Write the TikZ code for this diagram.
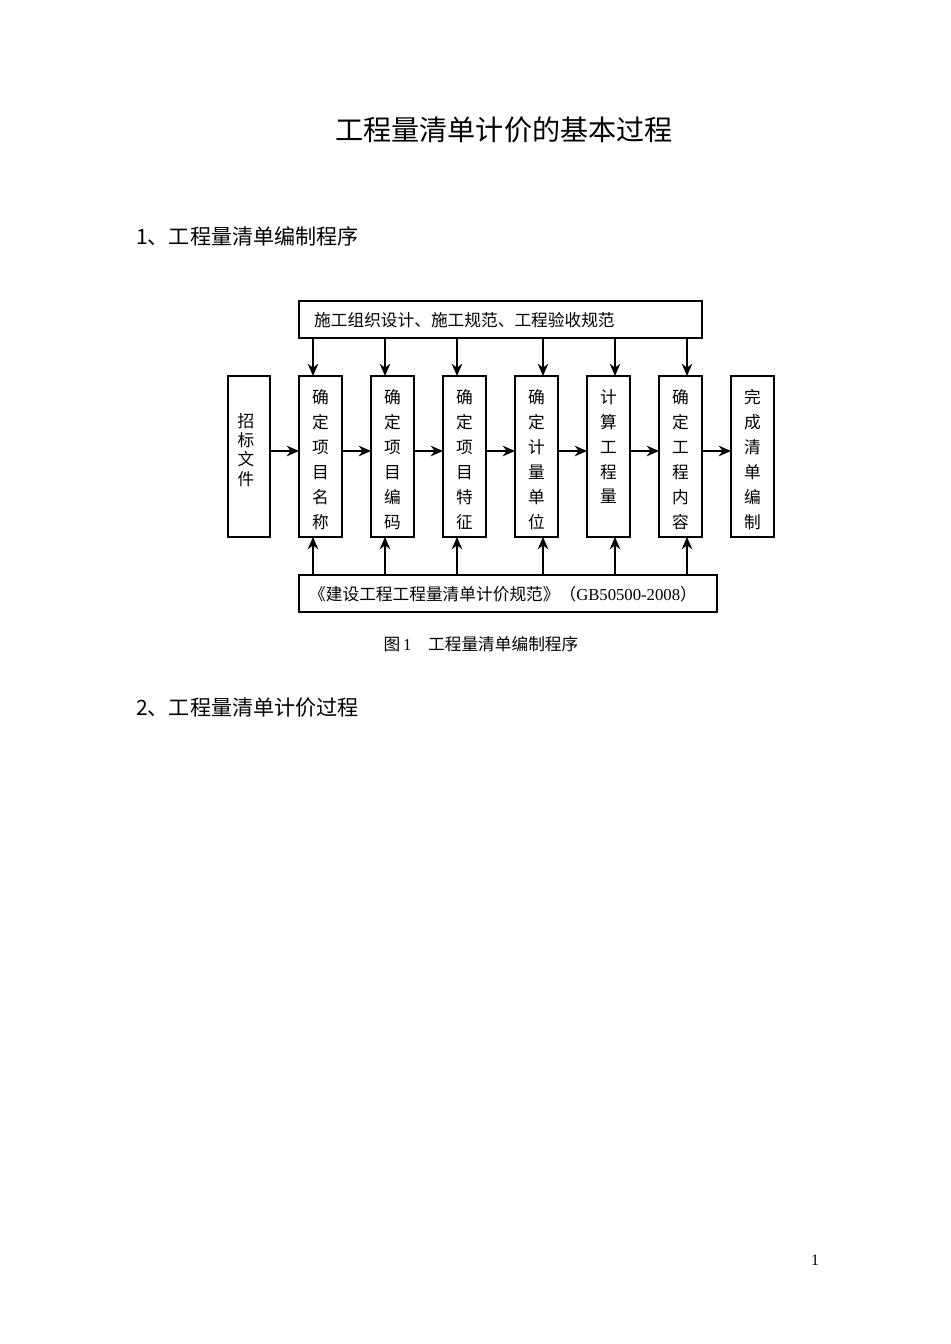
\documentclass[tikz,border=0pt]{standalone}
\usepackage{fontspec}
\setmainfont{Liberation Serif}
\newfontfamily\cjk{Noto Sans CJK SC}
\usetikzlibrary{arrows.meta}
\begin{document}
\begin{tikzpicture}[x=0.02cm,y=-0.02cm,
  box/.style={draw,line width=0.8pt,inner sep=0pt},
  arr/.style={-{Stealth[length=7pt,width=6pt]},line width=1pt},
  vt/.style={font=\cjk\fontsize{9.5pt}{14.2pt}\selectfont,align=center}]
\useasboundingbox (0,0) rectangle (950,1344);
\node[font=\cjk\fontsize{16pt}{16pt}\selectfont] (title) at (504,130) {工程量清单计价的基本过程};
\node[font=\cjk\fontsize{12pt}{12pt}\selectfont,anchor=west] (h1) at (130,236) {1、工程量清单编制程序};
\node[font=\cjk\fontsize{12pt}{12pt}\selectfont,anchor=west] (h2) at (130,708) {2、工程量清单计价过程};
\node[font=\cjk\fontsize{9.5pt}{9.5pt}\selectfont] (cap) at (481,644) {图\,{\rmfamily 1}\quad 工程量清单编制程序};
\node[font=\fontsize{9pt}{9pt}\selectfont] (pg) at (815,1260) {1};
\draw[box] (299,301) rectangle (702,338);
\node[anchor=west,font=\cjk\fontsize{9.5pt}{9.5pt}\selectfont] (top) at (308,320) {施工组织设计、施工规范、工程验收规范};
\draw[box] (299,575) rectangle (717,612);
\node[anchor=west,font=\cjk\fontsize{9.5pt}{9.5pt}\selectfont] (bot) at (303,594) {《建设工程工程量清单计价规范》（{\rmfamily GB50500-2008}）};
\draw[box] (228,376) rectangle (270,537);
\node[vt,font=\cjk\fontsize{9.5pt}{11pt}\selectfont] (z) at (246,450) {招\\标\\文\\件};
\foreach \x/\t [count=\i] in {299/{确\\定\\项\\目\\名\\称},371/{确\\定\\项\\目\\编\\码},443/{确\\定\\项\\目\\特\\征},515/{确\\定\\计\\量\\单\\位},587/{计\\算\\工\\程\\量},659/{确\\定\\工\\程\\内\\容},731/{完\\成\\清\\单\\编\\制}}{
  \draw[box] (\x,376) rectangle ++(43,161);
  \node[vt,anchor=north] (c\i) at (\x+21.5,383) {\t};
}
\foreach \a/\b in {270/299,342/371,414/443,486/515,558/587,630/659,702/731}
  \draw[arr] (\a,451) -- (\b,451);
\foreach \x in {313,385,457,543,615,687}{
  \draw[arr] (\x,338) -- (\x,376);
  \draw[arr] (\x,575) -- (\x,537);
}
\end{tikzpicture}
\end{document}
